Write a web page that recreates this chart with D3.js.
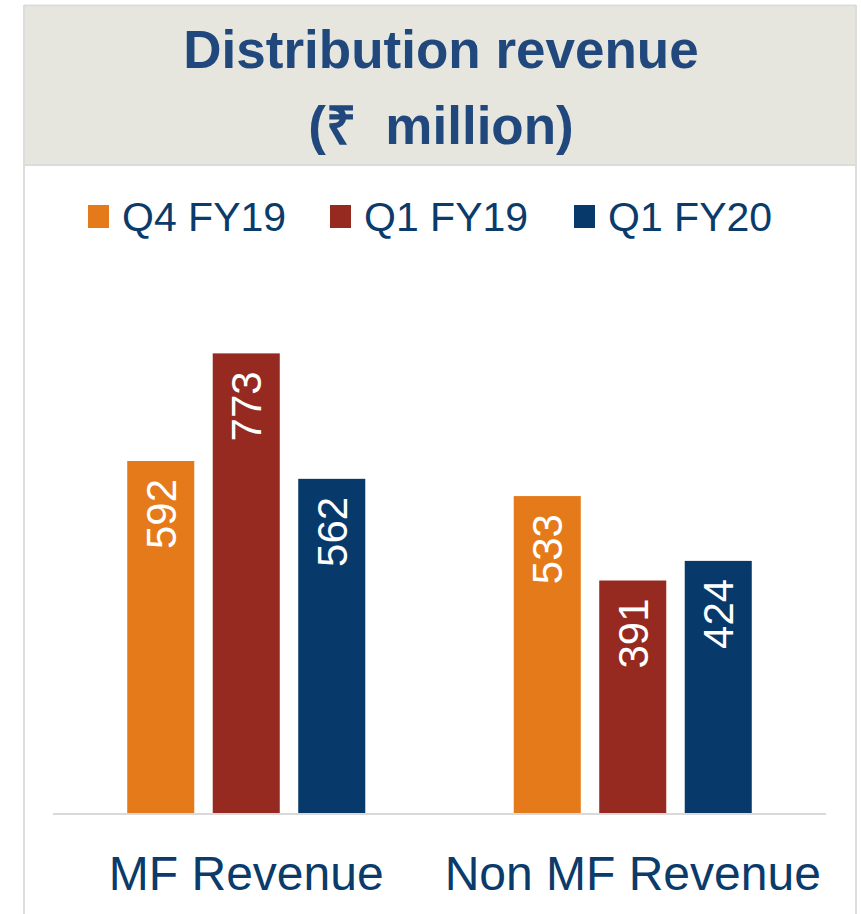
<!DOCTYPE html>
<html>
<head>
<meta charset="utf-8">
<script src="https://cdn.jsdelivr.net/npm/d3@7"></script>
<style>
  html, body { margin: 0; padding: 0; background: #ffffff; }
  svg { display: block; }
  text.title { white-space: pre; }
</style>
</head>
<body>
<script>
const categories = ["MF Revenue", "Non MF Revenue"];
const seriesNames = ["Q4 FY19", "Q1 FY19", "Q1 FY20"];
const q4fy19 = [592, 533];
const q1fy19 = [773, 391];
const q1fy20 = [562, 424];
const seriesValues = [q4fy19, q1fy19, q1fy20];
const colors = ["#e57a1a", "#962a20", "#073a6b"];
const titleLines = ["Distribution revenue", "(\u20B9  million)"];

const W = 861, H = 914;
const svg = d3.select("body").append("svg").attr("width", W).attr("height", H);
const font = "'Liberation Sans', Arial, sans-serif";

// header panel
svg.append("rect").attr("x", 24).attr("y", 5).attr("width", 832).attr("height", 160)
  .attr("fill", "#e6e6df");
// borders
const borderColor = "#dcdcdc";
svg.append("line").attr("x1", 24).attr("x2", 856).attr("y1", 5.5).attr("y2", 5.5)
  .attr("stroke", borderColor).attr("stroke-width", 2);
svg.append("line").attr("x1", 24).attr("x2", 856).attr("y1", 165).attr("y2", 165)
  .attr("stroke", borderColor).attr("stroke-width", 2);
svg.append("line").attr("x1", 24).attr("x2", 24).attr("y1", 5).attr("y2", H)
  .attr("stroke", borderColor).attr("stroke-width", 2);
svg.append("line").attr("x1", 856).attr("x2", 856).attr("y1", 5).attr("y2", H)
  .attr("stroke", borderColor).attr("stroke-width", 2);

// title
svg.selectAll("text.title").data(titleLines).join("text")
  .attr("class", "title")
  .attr("xml:space", "preserve")
  .attr("x", 441).attr("y", (d, i) => 68 + i * 76)
  .attr("text-anchor", "middle")
  .attr("font-family", font).attr("font-weight", "bold").attr("font-size", 53)
  .attr("fill", "#21487c")
  .text(d => d);

// legend
const legendX = [88, 330, 574];
const lg = svg.selectAll("g.legend").data(seriesNames).join("g")
  .attr("class", "legend")
  .attr("transform", (d, i) => `translate(${legendX[i]},0)`);
lg.append("rect").attr("x", 0).attr("y", 205).attr("width", 21).attr("height", 23)
  .attr("fill", (d, i) => colors[i]);
lg.append("text").attr("x", 34).attr("y", 231)
  .attr("font-family", font).attr("font-size", 41).attr("fill", "#0a3b6b")
  .text(d => d);

// scales
const plotLeft = 53, plotRight = 826, baseY = 813;
const y = d3.scaleLinear().domain([0, 900]).range([baseY, baseY - 900 * 0.5946]);
const x0 = d3.scaleBand().domain(categories).range([plotLeft, plotRight]);
const innerW = 256.5;
const x1 = d3.scaleBand().domain(seriesNames)
  .range([x0.bandwidth() / 2 - innerW / 2, x0.bandwidth() / 2 + innerW / 2])
  .paddingInner(0.216).paddingOuter(0.108);

const groups = svg.selectAll("g.cat").data(categories).join("g")
  .attr("class", "cat")
  .attr("transform", d => `translate(${x0(d)},0)`);

groups.each(function(cat, ci) {
  const g = d3.select(this);
  const data = seriesNames.map((s, si) => ({ s, si, v: seriesValues[si][ci] }));
  g.selectAll("rect").data(data).join("rect")
    .attr("x", d => x1(d.s)).attr("width", x1.bandwidth())
    .attr("y", d => y(d.v)).attr("height", d => y(0) - y(d.v))
    .attr("fill", d => colors[d.si]);
  g.selectAll("text.val").data(data).join("text")
    .attr("class", "val")
    .attr("transform", d => `translate(${x1(d.s) + x1.bandwidth() / 2},${y(d.v) + 18}) rotate(-90)`)
    .attr("text-anchor", "end")
    .attr("dy", "0.36em")
    .attr("font-family", font).attr("font-size", 42).attr("fill", "#ffffff")
    .text(d => d.v);
});

// baseline
svg.append("line").attr("x1", plotLeft).attr("x2", plotRight)
  .attr("y1", baseY + 1).attr("y2", baseY + 1)
  .attr("stroke", "#d9d9d9").attr("stroke-width", 2);

// category axis labels
const xAxis = d3.axisBottom(x0).tickSize(0).tickPadding(0);
const ax = svg.append("g").attr("transform", `translate(0,${baseY})`).call(xAxis);
ax.select(".domain").remove();
ax.selectAll("text")
  .attr("y", 77).attr("dy", 0)
  .attr("font-family", font).attr("font-size", 48).attr("fill", "#0a3b6b");
</script>
</body>
</html>
